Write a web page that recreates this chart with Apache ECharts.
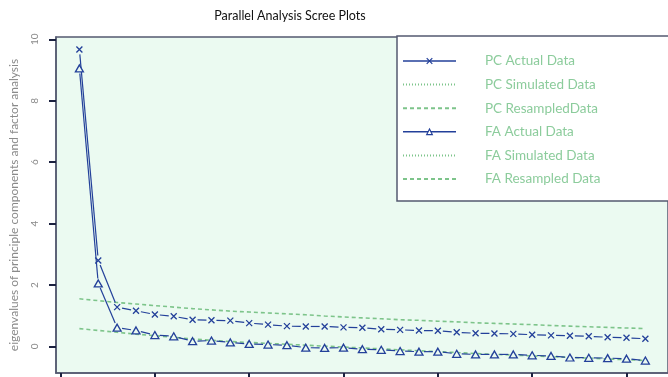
<!DOCTYPE html>
<html>
<head>
<meta charset="utf-8">
<script src="https://cdn.jsdelivr.net/npm/echarts@6/dist/echarts.min.js"></script>
<style>
html,body{margin:0;padding:0;background:#fff;}
#c{width:668px;height:377px;}
</style>
</head>
<body>
<div id="c"></div>
<script>
// ---- data ----
var factors = [1,2,3,4,5,6,7,8,9,10,11,12,13,14,15,16,17,18,19,20,21,22,23,24,25,26,27,28,29,30,31];
var pcActual = [9.67,2.80,1.28,1.16,1.04,0.98,0.87,0.85,0.84,0.76,0.71,0.66,0.65,0.65,0.62,0.61,0.56,0.54,0.52,0.51,0.46,0.43,0.42,0.41,0.38,0.36,0.35,0.33,0.30,0.28,0.25];
var faActual = [9.05,2.05,0.61,0.52,0.37,0.33,0.17,0.19,0.13,0.08,0.06,0.04,-0.04,-0.05,-0.04,-0.09,-0.11,-0.15,-0.17,-0.17,-0.24,-0.26,-0.26,-0.26,-0.29,-0.31,-0.36,-0.37,-0.38,-0.40,-0.46];
var pcSimulated = [];
var faSimulated = [];
var pcResampled = [1.55,1.49,1.43,1.38,1.33,1.28,1.23,1.19,1.15,1.12,1.09,1.06,1.03,0.99,0.96,0.93,0.90,0.87,0.85,0.82,0.80,0.77,0.75,0.73,0.71,0.68,0.66,0.64,0.62,0.60,0.58];
var faResampled = [0.58,0.52,0.46,0.40,0.35,0.30,0.24,0.20,0.16,0.13,0.10,0.07,0.04,0.01,-0.02,-0.05,-0.08,-0.11,-0.14,-0.17,-0.20,-0.23,-0.26,-0.28,-0.31,-0.33,-0.36,-0.38,-0.41,-0.43,-0.46];
var yTicks = [0,2,4,6,8,10];
var xTicks = [0,5,10,15,20,25,30];
var legendNames = ['PC Actual Data','PC Simulated Data','PC ResampledData','FA Actual Data','FA Simulated Data','FA Resampled Data'];

// ---- helpers ----
var BLUE = '#23409a';
var GREEN = '#7dc48a';
var BG = '#ebfaf1';
function pts(vals){ return vals.map(function(v,i){ return [factors[i], v]; }); }
function segs(vals){
  var out = [];
  for (var i = 0; i < vals.length - 1; i++) out.push([factors[i], vals[i], factors[i+1], vals[i+1]]);
  return out;
}
function segRender(params, api){
  var p1 = api.coord([api.value(0), api.value(1)]);
  var p2 = api.coord([api.value(2), api.value(3)]);
  var dx = p2[0]-p1[0], dy = p2[1]-p1[1];
  var L = Math.sqrt(dx*dx+dy*dy), g = 5;
  if (L <= 2*g) return {type:'group', children:[]};
  var ux = dx/L, uy = dy/L;
  return {type:'line', shape:{x1:p1[0]+ux*g, y1:p1[1]+uy*g, x2:p2[0]-ux*g, y2:p2[1]-uy*g},
          style:{stroke:BLUE, lineWidth:1.2}};
}
var XSYM = 'path://M0,0L10,10M0,10L10,0';

var chart = echarts.init(document.getElementById('c'), null, {renderer:'canvas'});
var hiddenSym = {color:'rgba(0,0,0,0)', opacity:0, borderWidth:0};
chart.setOption({
  animation:false,
  backgroundColor:'#ffffff',
  title:{text:'Parallel Analysis Scree Plots', left:285, top:4, textAlign:'center',
    textStyle:{fontFamily:'Lato', fontSize:12.5, fontWeight:'normal', color:'#111'}},
  grid:{left:55, top:37, width:621, height:336, show:true, backgroundColor:BG,
    borderColor:'#545a70', borderWidth:1.5, containLabel:false},
  legend:{
    orient:'vertical', left:397, top:36,
    backgroundColor:'#ffffff', borderColor:'#545a70', borderWidth:1.5,
    padding:[18,200,15,5],
    itemWidth:53, itemHeight:7, itemGap:9.6,
    textStyle:{fontFamily:'Lato', fontSize:13.5, color:'#8ccc9c', lineHeight:14, padding:[0,0,0,24]},
    selectedMode:false,
    data:[
      {name:legendNames[0], lineStyle:{width:1.5, color:BLUE, opacity:1, type:'solid'}, itemStyle:{color:'none', borderColor:BLUE, borderWidth:1.2, opacity:1}},
      {name:legendNames[1], itemStyle:hiddenSym},
      {name:legendNames[2], itemStyle:hiddenSym},
      {name:legendNames[3], lineStyle:{width:1.5, color:BLUE, opacity:1, type:'solid'}, itemStyle:{color:'#ffffff', borderColor:BLUE, borderWidth:1.2, opacity:1}},
      {name:legendNames[4], itemStyle:hiddenSym},
      {name:legendNames[5], itemStyle:hiddenSym}
    ]
  },
  xAxis:{type:'value', min:-0.24, max:32.2,
    axisLine:{show:true, onZero:false, lineStyle:{color:'#545a70', width:1.5}},
    axisTick:{show:true, length:5, inside:false, customValues:xTicks, lineStyle:{color:'#1c2240', width:2}},
    axisLabel:{show:false},
    splitLine:{show:false}},
  yAxis:{type:'value', min:-0.865, max:10.075,
    name:'eigenvalues of principle components and factor analysis',
    nameLocation:'middle', nameGap:36, nameRotate:90,
    nameTextStyle:{fontFamily:'Lato', fontSize:12, color:'#8a8a8a'},
    axisLine:{show:true, onZero:false, lineStyle:{color:'#545a70', width:1.5}},
    axisTick:{show:true, length:7, customValues:yTicks, lineStyle:{color:'#1c2240', width:2}},
    axisLabel:{customValues:yTicks, rotate:90, margin:16, fontFamily:'Lato', fontSize:10, color:'#8a8a8a'},
    splitLine:{show:false}},
  series:[
    {name:'_pcseg', type:'custom', renderItem:segRender, data:segs(pcActual), encode:{x:[0,2], y:[1,3]}, z:2, silent:true},
    {name:'_faseg', type:'custom', renderItem:segRender, data:segs(faActual), encode:{x:[0,2], y:[1,3]}, z:2, silent:true},
    {name:legendNames[2], type:'line', data:pts(pcResampled), symbol:'none', showSymbol:false, z:1,
      lineStyle:{color:GREEN, width:1.6, type:[4,3]}},
    {name:legendNames[5], type:'line', data:pts(faResampled), symbol:'none', showSymbol:false, z:1,
      lineStyle:{color:GREEN, width:1.6, type:[4,3]}},
    {name:legendNames[1], type:'line', data:pcSimulated, symbol:'none', showSymbol:false,
      lineStyle:{color:GREEN, width:1.2, type:[1,2]}},
    {name:legendNames[4], type:'line', data:faSimulated, symbol:'none', showSymbol:false,
      lineStyle:{color:GREEN, width:1.2, type:[1,2]}},
    {name:legendNames[0], type:'line', data:pts(pcActual), symbol:XSYM, symbolSize:6, showSymbol:true, z:3,
      lineStyle:{color:BLUE, width:1.2, opacity:0},
      itemStyle:{color:'none', borderColor:BLUE, borderWidth:1.3}},
    {name:legendNames[3], type:'line', data:pts(faActual), symbol:'triangle', symbolSize:[8,7], showSymbol:true, z:3,
      lineStyle:{color:BLUE, width:1.2, opacity:0},
      itemStyle:{color:BG, borderColor:BLUE, borderWidth:1.3}}
  ]
});
</script>
</body>
</html>
